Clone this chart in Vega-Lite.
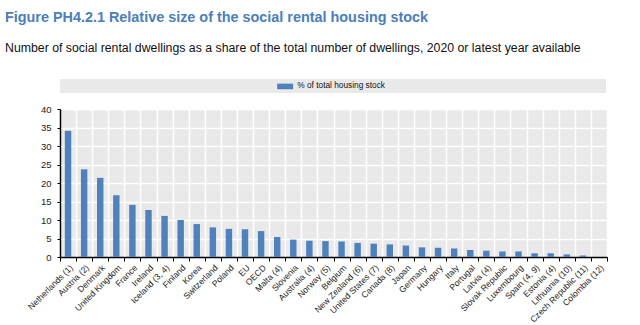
{
  "$schema": "https://vega.github.io/schema/vega-lite/v6.json",
  "autosize": {"type": "none"},
  "width": 547,
  "height": 148,
  "padding": {"left": 60, "top": 109, "right": 33, "bottom": 68},
  "background": "white",
  "title": {
    "text": "Figure PH4.2.1 Relative size of the social rental housing stock",
    "subtitle": "Number of social rental dwellings as a share of the total number of dwellings, 2020 or latest year available",
    "anchor": "start",
    "frame": "group",
    "dx": -55,
    "offset": 24,
    "font": "Liberation Sans",
    "fontSize": 14.4,
    "fontWeight": "bold",
    "color": "#4a7ebb",
    "subtitleFont": "Liberation Sans",
    "subtitleFontSize": 12.3,
    "subtitleColor": "#111111",
    "subtitlePadding": 16
  },
  "data": {
    "values": [
      {"country": "Netherlands (1)", "share": 34.1},
      {"country": "Austria (2)", "share": 23.7},
      {"country": "Denmark", "share": 21.4},
      {"country": "United Kingdom", "share": 16.7},
      {"country": "France", "share": 14.1},
      {"country": "Ireland", "share": 12.7},
      {"country": "Iceland (3, 4)", "share": 11.1},
      {"country": "Finland", "share": 10.0},
      {"country": "Korea", "share": 8.9},
      {"country": "Switzerland", "share": 8.0},
      {"country": "Poland", "share": 7.6},
      {"country": "EU", "share": 7.5},
      {"country": "OECD", "share": 7.0},
      {"country": "Malta (4)", "share": 5.4},
      {"country": "Slovenia", "share": 4.7},
      {"country": "Australia (4)", "share": 4.4},
      {"country": "Norway (5)", "share": 4.3},
      {"country": "Belgium", "share": 4.2},
      {"country": "New Zealand (6)", "share": 3.8},
      {"country": "United States (7)", "share": 3.6},
      {"country": "Canada (8)", "share": 3.4},
      {"country": "Japan", "share": 3.1},
      {"country": "Germany", "share": 2.6},
      {"country": "Hungary", "share": 2.5},
      {"country": "Italy", "share": 2.3},
      {"country": "Portugal", "share": 1.9},
      {"country": "Latvia (4)", "share": 1.7},
      {"country": "Slovak Republic", "share": 1.5},
      {"country": "Luxembourg", "share": 1.5},
      {"country": "Spain (4, 9)", "share": 1.0},
      {"country": "Estonia (4)", "share": 1.0},
      {"country": "Lithuania (10)", "share": 0.7},
      {"country": "Czech Republic (11)", "share": 0.4},
      {"country": "Colombia (12)", "share": 0.0}
    ]
  },
  "mark": {"type": "bar", "width": {"band": 0.4}},
  "encoding": {
    "x": {
      "field": "country",
      "type": "nominal",
      "sort": null,
      "scale": {"paddingInner": 0, "paddingOuter": 0},
      "axis": {
        "title": null,
        "tickBand": "extent",
        "labelAngle": -45,
        "labelAlign": "right",
        "labelBaseline": "top",
        "labelFont": "Liberation Sans",
        "labelFontSize": 8.6,
        "labelColor": "#222222",
        "labelPadding": 2,
        "domainColor": "#000000",
        "domainWidth": 1.5,
        "tickColor": "#000000",
        "tickSize": 4,
        "tickWidth": 1,
        "grid": true,
        "gridColor": "#ffffff",
        "gridWidth": 1.5
      }
    },
    "y": {
      "field": "share",
      "type": "quantitative",
      "scale": {"domain": [0, 40], "nice": false},
      "axis": {
        "title": null,
        "values": [0, 5, 10, 15, 20, 25, 30, 35, 40],
        "labelFont": "Liberation Sans",
        "labelFontSize": 9.5,
        "labelColor": "#222222",
        "labelPadding": 6,
        "domainColor": "#000000",
        "domainWidth": 1.5,
        "tickColor": "#000000",
        "tickSize": 3,
        "grid": true,
        "gridColor": "#ffffff",
        "gridWidth": 1.5
      }
    },
    "color": {
      "datum": "% of total housing stock",
      "scale": {
        "domain": ["blank1", "% of total housing stock", "blank2"],
        "range": ["rgba(0,0,0,0)", "#4f81bd", "rgba(0,0,0,0)"]
      },
      "legend": {
        "title": null,
        "orient": "top",
        "direction": "horizontal",
        "columns": 3,
        "columnPadding": 197,
        "offset": 16,
        "fillColor": "#e9e9e9",
        "padding": 3,
        "symbolType": "M-2,-0.7L2,-0.7L2,0.7L-2,0.7Z",
        "symbolSize": 64,
        "symbolStrokeWidth": 0,
        "labelFont": "Liberation Sans",
        "labelFontSize": 8.3,
        "labelColor": "#111111",
        "labelOffset": 8,
        "labelExpr": "datum.value == '% of total housing stock' ? datum.label : ''"
      }
    }
  },
  "config": {
    "view": {"fill": "#e9e9e9", "stroke": null}
  }
}
